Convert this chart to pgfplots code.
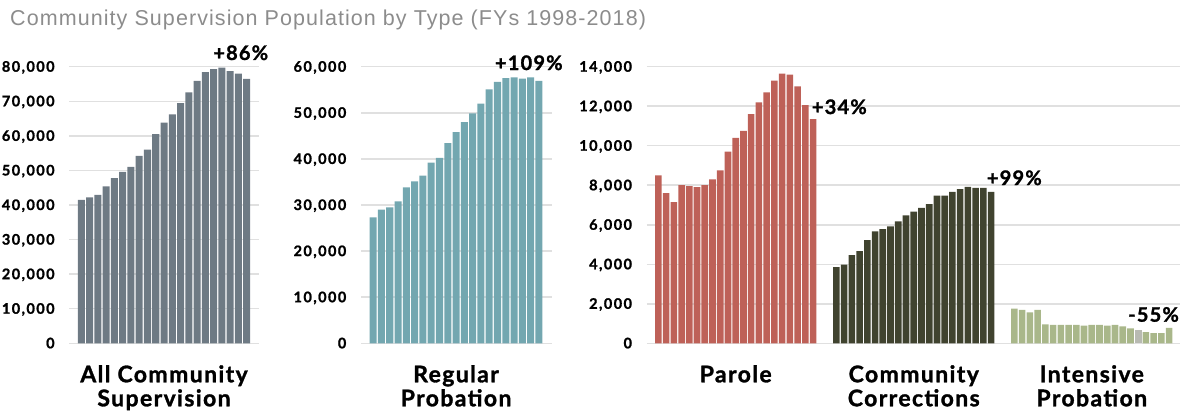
\documentclass[border=0pt]{standalone}
\usepackage{pgfplots}
\pgfplotsset{compat=1.18}
\usepackage{fontspec}
\setmainfont{Liberation Sans}
\newfontfamily\titlefam[LetterSpace=5]{Liberation Sans}
\newfontfamily\lato[LetterSpace=6, BoldFeatures={FakeBold=1.3}]{Lato}
\newfontfamily\latotick[LetterSpace=10, BoldFeatures={FakeBold=1.3}]{Lato}

\definecolor{allc}{HTML}{6E7A84}
\definecolor{regc}{HTML}{73A7B0}
\definecolor{parc}{HTML}{BE6158}
\definecolor{ccc}{HTML}{40432F}
\definecolor{ipc}{HTML}{A9B78A}
\definecolor{ipgray}{HTML}{B8BAB2}
\definecolor{gridc}{HTML}{E0E0E0}
\definecolor{titlec}{HTML}{8C8C8C}

\newcommand\tickfont{\latotick\bfseries\fontsize{14.5}{14.5}\selectfont}
\newcommand\catfont{\lato\bfseries\fontsize{23}{24}\selectfont}
\newcommand\notefont{\lato\bfseries\fontsize{20}{20}\selectfont}

\pgfplotsset{
  panel/.style={
    scale only axis,
    anchor=south west,
    height=276.6pt,
    ymin=0,
    axis line style={draw=none},
    major tick length=0pt,
    ymajorgrids,
    grid style={draw=gridc, line width=1.5pt},
    scaled y ticks=false,
    /pgf/number format/1000 sep={,},
    /pgf/number format/assume math mode=true,
    yticklabel style={font=\tickfont, anchor=base east, inner sep=0pt,
      xshift=-14.5pt, yshift=-5pt},
    xticklabel style={font=\catfont, align=center, anchor=north,
      inner sep=0pt, yshift=-21.7pt},
    clip=false,
  },
  bars/.style={ybar, bar width=0.85, bar shift=0pt, draw=none, fill=#1},
}
\tikzset{note/.style={font=\notefont, inner sep=0pt, anchor=base}}

\begin{document}
\begin{tikzpicture}
\node[anchor=base west, inner sep=0pt, text=titlec,
  font=\titlefam\fontsize{21.5}{21.5}\selectfont] at (10pt,-25pt)
  {Community Supervision Population by Type (FYs 1998-2018)};

% All community supervision
\begin{axis}[panel, at={(69.3pt,-343.3pt)}, width=190pt,
  xmin=-1.47, xmax=21.54, ymax=80000, ytick={0,10000,...,80000},
  xtick={10}, xticklabels={{All Community\\Supervision}}]
\addplot[bars=allc] coordinates {
 (0,41500) (1,42200) (2,42900) (3,45400) (4,47800) (5,49600) (6,51000)
 (7,54200) (8,56000) (9,60500) (10,63800) (11,66200) (12,69500) (13,72600)
 (14,75900) (15,78400) (16,79300) (17,79700) (18,78700) (19,78000) (20,76500)};
\node[note] at (axis cs:19.29,81950) {+86\%};
\end{axis}

% Regular probation
\begin{axis}[panel, at={(361pt,-343.3pt)}, width=190.7pt,
  xmin=-1.47, xmax=21.54, ymax=60000, ytick={0,10000,...,60000},
  xtick={10}, xticklabels={{Regular\\Probation}}]
\addplot[bars=regc] coordinates {
 (0,27300) (1,29000) (2,29500) (3,30800) (4,33800) (5,35100) (6,36400)
 (7,39200) (8,40200) (9,43400) (10,45800) (11,48000) (12,49900) (13,52000)
 (14,55100) (15,56700) (16,57500) (17,57700) (18,57400) (19,57700) (20,56900)};
\node[note] at (axis cs:18.78,59285) {+109\%};
\end{axis}

% Parole, community corrections, intensive probation
\begin{axis}[panel, at={(646.7pt,-343.3pt)}, width=533.3pt,
  xmin=-1.5, xmax=67.4, ymax=14000, ytick={0,2000,...,14000},
  xtick={10,33,56},
  xticklabels={{Parole},{Community\\Corrections},{Intensive\\Probation}}]
\addplot[bars=parc] coordinates {
 (0,8500) (1,7600) (2,7150) (3,8000) (4,7950) (5,7900) (6,8000)
 (7,8300) (8,8750) (9,9700) (10,10400) (11,10750) (12,11600) (13,12200)
 (14,12700) (15,13300) (16,13650) (17,13600) (18,13000) (19,12050) (20,11350)};
\addplot[bars=ccc] coordinates {
 (23,3850) (24,3980) (25,4460) (26,4660) (27,5220) (28,5660) (29,5780)
 (30,5920) (31,6170) (32,6480) (33,6660) (34,6850) (35,7050) (36,7480)
 (37,7480) (38,7660) (39,7800) (40,7920) (41,7870) (42,7870) (43,7660)};
\addplot[bars=ipc] coordinates {
 (46,1750) (47,1690) (48,1570) (49,1690) (50,960) (51,930) (52,930)
 (53,930) (54,930) (55,890) (56,930) (57,930) (58,890) (59,930)
 (60,860) (61,760) (63,570) (64,520) (65,520) (66,780)};
\addplot[bars=ipgray] coordinates {(62,680)};
\node[note, anchor=base west] at (axis cs:19.82,11605) {+34\%};
\node[note, anchor=base west] at (axis cs:42.43,8012) {+99\%};
\node[note, anchor=base west] at (axis cs:60.68,1093) {-55\%};
\end{axis}

\pgfresetboundingbox
\useasboundingbox (0,0) rectangle (1190pt,-410pt);
\end{tikzpicture}
\end{document}
